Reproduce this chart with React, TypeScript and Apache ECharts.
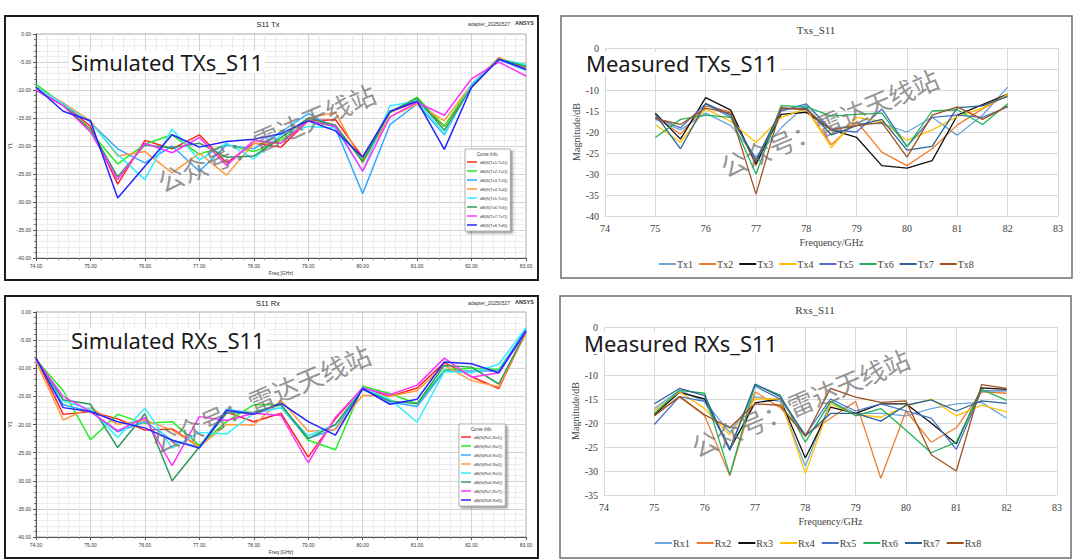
import React, { useEffect, useRef } from 'react';
import * as echarts from 'echarts';

// ---------- data ----------
const simFreq = [74, 74.5, 75, 75.5, 76, 76.5, 77, 77.5, 78, 78.5, 79, 79.5, 80, 80.5, 81, 81.5, 82, 82.5, 83];
const measFreq = [75, 75.5, 76, 76.5, 77, 77.5, 78, 78.5, 79, 79.5, 80, 80.5, 81, 81.5, 82];

const simTxNames = ['dB(S(Tx1,Tx1))', 'dB(S(Tx2,Tx2))', 'dB(S(Tx3,Tx3))', 'dB(S(Tx4,Tx4))', 'dB(S(Tx5,Tx5))', 'dB(S(Tx6,Tx6))', 'dB(S(Tx7,Tx7))', 'dB(S(Tx8,Tx8))'];
const simRxNames = ['dB(S(Rx1,Rx1))', 'dB(S(Rx2,Rx2))', 'dB(S(Rx3,Rx3))', 'dB(S(Rx4,Rx4))', 'dB(S(Rx5,Rx5))', 'dB(S(Rx6,Rx6))', 'dB(S(Rx7,Rx7))', 'dB(S(Rx8,Rx8))'];
const measTxNames = ['Tx1', 'Tx2', 'Tx3', 'Tx4', 'Tx5', 'Tx6', 'Tx7', 'Tx8'];
const measRxNames = ['Rx1', 'Rx2', 'Rx3', 'Rx4', 'Rx5', 'Rx6', 'Rx7', 'Rx8'];

const simTx1 = [-9.5, -12.5, -16.5, -26.8, -19.0, -20.5, -18.0, -23.0, -19.5, -20.2, -15.5, -15.3, -22.0, -14.0, -12.0, -16.5, -9.5, -4.5, -6.0];
const simTx2 = [-9.0, -12.5, -17.5, -23.2, -19.7, -18.0, -21.5, -19.8, -21.0, -19.0, -15.5, -16.5, -22.5, -14.0, -11.3, -16.5, -9.0, -4.5, -5.5];
const simTx3 = [-9.5, -12.5, -15.8, -20.5, -23.0, -20.0, -24.5, -19.8, -20.5, -17.5, -14.2, -16.8, -28.5, -16.2, -12.5, -18.0, -9.0, -4.5, -6.5];
const simTx4 = [-9.5, -12.3, -15.5, -21.8, -21.0, -24.8, -21.3, -25.2, -19.5, -19.5, -15.0, -14.0, -23.0, -14.8, -12.5, -15.5, -9.0, -4.2, -6.0];
const simTx5 = [-9.5, -12.5, -15.8, -21.5, -26.0, -17.0, -22.5, -19.5, -22.3, -18.0, -16.5, -16.8, -24.5, -12.8, -12.0, -17.8, -9.0, -4.5, -5.5];
const simTx6 = [-10.0, -12.8, -17.0, -25.5, -19.8, -20.3, -19.5, -22.0, -21.8, -18.5, -15.0, -16.3, -22.8, -14.0, -11.5, -17.2, -9.5, -4.5, -5.8];
const simTx7 = [-10.0, -12.8, -17.5, -26.0, -19.5, -21.2, -18.5, -23.5, -19.0, -19.5, -15.5, -16.5, -24.5, -14.8, -12.2, -14.5, -8.0, -5.0, -7.5];
const simTx8 = [-9.5, -13.8, -15.5, -29.3, -23.6, -18.0, -20.2, -19.2, -18.8, -17.8, -15.5, -17.3, -22.0, -13.8, -12.0, -20.6, -9.5, -4.5, -6.3];

const simRx1 = [-8.2, -18.2, -17.7, -19.0, -21.0, -20.8, -24.0, -17.8, -19.5, -18.0, -25.8, -19.0, -13.5, -15.0, -13.5, -9.0, -11.5, -13.6, -3.5];
const simRx2 = [-8.5, -14.0, -22.7, -18.2, -19.8, -19.5, -23.7, -19.5, -16.5, -16.5, -22.8, -24.5, -13.2, -14.5, -16.3, -10.3, -10.0, -10.2, -3.5];
const simRx3 = [-8.3, -16.5, -17.7, -21.3, -19.5, -22.8, -24.0, -17.3, -18.0, -17.0, -22.5, -20.8, -13.5, -16.0, -16.8, -10.5, -10.5, -10.5, -3.0];
const simRx4 = [-8.8, -19.2, -17.0, -20.0, -19.2, -21.0, -24.0, -20.0, -20.1, -15.7, -21.2, -20.9, -14.8, -15.0, -14.0, -9.5, -12.2, -13.3, -3.8];
const simRx5 = [-8.5, -15.8, -17.3, -22.3, -17.1, -24.2, -21.4, -21.7, -18.0, -17.0, -22.0, -20.0, -13.5, -15.5, -19.6, -10.6, -10.8, -9.3, -2.8];
const simRx6 = [-8.3, -15.6, -16.4, -24.1, -18.1, -30.0, -24.0, -18.0, -17.8, -16.5, -22.5, -20.0, -13.8, -15.8, -16.3, -9.5, -9.8, -12.8, -3.5];
const simRx7 = [-8.5, -15.0, -17.7, -21.1, -18.8, -27.3, -18.6, -19.3, -18.0, -18.4, -26.8, -18.7, -13.5, -14.7, -13.0, -8.2, -11.6, -10.8, -3.5];
const simRx8 = [-8.2, -17.0, -17.7, -19.5, -20.6, -22.8, -24.2, -17.5, -18.2, -16.2, -19.5, -21.9, -13.6, -16.4, -15.5, -8.9, -9.2, -10.8, -3.3];

const measTx1 = [-17.0, -19.5, -15.5, -18.5, -26.0, -19.0, -13.5, -19.5, -18.0, -18.0, -20.0, -16.5, -20.8, -16.0, -9.3];
const measTx2 = [-16.5, -20.5, -13.8, -15.2, -28.0, -14.5, -14.5, -23.0, -17.5, -24.8, -28.0, -24.0, -18.3, -14.5, -11.2];
const measTx3 = [-15.5, -21.7, -11.8, -14.8, -27.6, -15.8, -15.3, -19.5, -21.3, -28.0, -28.6, -26.8, -16.0, -13.5, -11.0];
const measTx4 = [-18.2, -22.5, -14.5, -17.5, -22.5, -16.5, -14.5, -23.7, -16.5, -17.5, -22.0, -19.5, -16.3, -14.3, -11.0];
const measTx5 = [-16.5, -19.0, -13.3, -16.5, -26.5, -15.0, -13.3, -19.5, -20.0, -14.5, -23.5, -16.5, -16.0, -16.5, -14.0];
const measTx6 = [-21.3, -17.0, -16.0, -16.5, -30.0, -13.7, -14.0, -16.2, -15.8, -15.5, -23.5, -15.0, -14.7, -18.2, -13.3];
const measTx7 = [-15.8, -24.0, -13.2, -16.0, -27.0, -14.5, -14.3, -20.7, -18.5, -17.0, -24.3, -23.4, -14.2, -13.8, -11.5];
const measTx8 = [-16.8, -18.2, -14.3, -15.5, -34.8, -14.2, -14.7, -19.5, -18.5, -17.7, -26.0, -16.0, -14.0, -17.0, -13.8];

const measRx1 = [-17.0, -13.2, -15.5, -22.0, -14.5, -15.5, -29.0, -15.5, -18.0, -18.0, -18.5, -17.0, -16.0, -15.7, -19.0];
const measRx2 = [-18.5, -14.5, -18.5, -31.0, -13.5, -16.8, -22.5, -19.0, -15.5, -31.5, -17.5, -24.0, -21.0, -13.5, -13.8];
const measRx3 = [-18.3, -13.6, -15.0, -25.5, -15.8, -15.0, -27.3, -16.7, -18.0, -16.0, -16.0, -20.0, -24.3, -12.7, -13.0];
const measRx4 = [-17.5, -13.5, -17.0, -22.5, -15.0, -15.0, -30.5, -16.0, -18.2, -18.8, -16.5, -15.0, -18.5, -16.3, -17.7];
const measRx5 = [-20.3, -14.5, -15.5, -25.3, -12.3, -15.0, -22.5, -15.0, -17.5, -16.0, -17.5, -19.0, -25.5, -13.3, -13.3];
const measRx6 = [-18.0, -13.2, -13.8, -30.8, -12.0, -14.2, -24.0, -15.5, -18.5, -17.0, -21.5, -26.2, -24.0, -13.0, -15.3];
const measRx7 = [-16.0, -12.8, -14.3, -25.7, -11.9, -14.5, -22.7, -18.0, -18.0, -19.6, -16.3, -15.2, -17.5, -15.4, -15.9];
const measRx8 = [-18.5, -14.5, -18.3, -21.0, -16.0, -16.3, -22.8, -12.8, -14.6, -15.7, -15.4, -26.6, -30.0, -12.0, -12.8];

const simTx = [simTx1, simTx2, simTx3, simTx4, simTx5, simTx6, simTx7, simTx8];
const simRx = [simRx1, simRx2, simRx3, simRx4, simRx5, simRx6, simRx7, simRx8];
const measTx = [measTx1, measTx2, measTx3, measTx4, measTx5, measTx6, measTx7, measTx8];
const measRx = [measRx1, measRx2, measRx3, measRx4, measRx5, measRx6, measRx7, measRx8];

const simColors = ['#ff2424', '#22ee22', '#33aaff', '#ff9a3c', '#33eeff', '#2f9a5e', '#ff33ff', '#2424ff'];
const measColors = ['#6aa6dc', '#ed7d31', '#111111', '#ffc000', '#4472c4', '#1fb35a', '#2b6297', '#a0501e'];

// ---------- styles ----------
const SANS = 'Liberation Sans, Arial, sans-serif';
const SERIF = 'Liberation Serif, Times New Roman, serif';
const BIG = 'Noto Sans, Open Sans, sans-serif';
const CJK = 'Noto Sans CJK SC, sans-serif';

function simX(gi: number) {
  return {
    type: 'value', gridIndex: gi, min: 74, max: 83, interval: 1,
    name: 'Freq [GHz]', nameLocation: 'middle', nameGap: 12,
    nameTextStyle: { fontSize: 5, fontFamily: SANS, color: '#333' },
    axisLabel: { fontSize: 5, fontFamily: SANS, color: '#333', margin: 5, formatter: (v: number) => v.toFixed(2) },
    axisLine: { show: true, onZero: false, lineStyle: { color: '#555', width: 1 } },
    axisTick: { show: true, length: 3, lineStyle: { color: '#555' } },
    minorTick: { show: true, splitNumber: 5, length: 2, lineStyle: { color: '#777' } },
    splitLine: { show: true, lineStyle: { color: '#d2d2d2', width: 1 } },
    minorSplitLine: { show: true, lineStyle: { color: '#ededed', width: 1 } },
  };
}
function simY(gi: number) {
  return {
    type: 'value', gridIndex: gi, min: -40, max: 0, interval: 5,
    name: 'Y1', nameLocation: 'middle', nameGap: 20,
    nameTextStyle: { fontSize: 5, fontFamily: SANS, color: '#333' },
    axisLabel: { fontSize: 5, fontFamily: SANS, color: '#333', margin: 5, formatter: (v: number) => v.toFixed(2) },
    axisLine: { show: true, onZero: false, lineStyle: { color: '#555', width: 1 } },
    axisTick: { show: true, length: 3, lineStyle: { color: '#555' } },
    minorTick: { show: true, splitNumber: 5, length: 2, lineStyle: { color: '#777' } },
    splitLine: { show: true, lineStyle: { color: '#d2d2d2', width: 1 } },
    minorSplitLine: { show: true, lineStyle: { color: '#ededed', width: 1 } },
  };
}
function measX(gi: number) {
  return {
    type: 'value', gridIndex: gi, min: 74, max: 83, interval: 1,
    name: 'Frequency/GHz', nameLocation: 'middle', nameGap: 21,
    nameTextStyle: { fontSize: 10, fontFamily: SERIF, color: '#404040' },
    axisLabel: { fontSize: 10, fontFamily: SERIF, color: '#404040', margin: 7 },
    axisLine: { show: false }, axisTick: { show: false },
    splitLine: { show: true, lineStyle: { color: '#d9d9d9', width: 1 } },
  };
}
function measY(gi: number, min: number) {
  return {
    type: 'value', gridIndex: gi, min, max: 0, interval: 5,
    name: 'Magnitude/dB', nameLocation: 'middle', nameGap: 24,
    nameTextStyle: { fontSize: 10, fontFamily: SERIF, color: '#404040' },
    axisLabel: { fontSize: 10, fontFamily: SERIF, color: '#404040', margin: 6 },
    axisLine: { show: false }, axisTick: { show: false },
    splitLine: { show: true, lineStyle: { color: '#d9d9d9', width: 1 } },
  };
}

function lines(names: string[], freq: number[], sets: number[][], colors: string[], gi: number, width: number) {
  return names.map((name, k) => ({
    type: 'line', name, xAxisIndex: gi, yAxisIndex: gi,
    data: freq.map((f, i) => [f, sets[k][i]]),
    showSymbol: false, symbol: 'none',
    lineStyle: { color: colors[k], width },
    itemStyle: { color: colors[k] },
    z: 3,
  }));
}

function simLegend(names: string[], left: number, top: number) {
  return {
    data: names, orient: 'vertical', left, top,
    icon: 'rect', itemWidth: 10, itemHeight: 1.5, itemGap: 3,
    padding: [10, 3, 3, 2],
    backgroundColor: '#fff', borderColor: '#999', borderWidth: 0.8,
    shadowColor: 'rgba(0,0,0,0.4)', shadowBlur: 2, shadowOffsetX: 2, shadowOffsetY: 2,
    textStyle: { fontSize: 4, fontFamily: SANS, color: '#333', lineHeight: 6, padding: [0, 0, 0, -2] },
    selectedMode: false,
  };
}
function measLegend(names: string[], left: number, top: number, gap: number) {
  return {
    data: names, orient: 'horizontal', left, top,
    icon: 'rect', itemWidth: 17, itemHeight: 2, itemGap: gap, padding: 0,
    textStyle: { fontSize: 10, fontFamily: SERIF, color: '#404040', padding: [0, 0, 0, -4] },
    selectedMode: false,
  };
}

function txt(x: number, y: number, text: string, font: string, fill: string, extra: any = {}) {
  return {
    type: 'text', x, y, z: 100,
    style: { text, font, fill, align: 'center', verticalAlign: 'middle', ...extra },
  };
}
function leftTxt(x: number, y: number, text: string, font: string, fill: string, extra: any = {}) {
  return {
    type: 'text', x, y, z: 100,
    style: { text, font, fill, align: 'left', verticalAlign: 'middle', ...extra },
  };
}
function watermark(x: number, y: number) {
  return {
    type: 'text', x, y, z: 120, rotation: (23 * Math.PI) / 180,
    style: { text: '公众号：雷达天线站', font: `26px ${CJK}`, fill: 'rgba(115,115,115,0.75)', align: 'center', verticalAlign: 'middle' },
  };
}
function frame(x: number, y: number, w: number, h: number, color: string, lw: number) {
  return { type: 'rect', z: 1, shape: { x, y, width: w, height: h }, style: { fill: 'none', stroke: color, lineWidth: lw } };
}

function buildOption() {
  const graphic: any[] = [
    frame(5, 16, 533, 264, '#1c1c1c', 2),
    frame(5, 296, 533, 262, '#1c1c1c', 2),
    frame(561, 16, 511, 262, '#6e6e6e', 1.5),
    frame(560, 296, 511, 262, '#6e6e6e', 1.5),
    // simulated headers
    txt(268, 24, 'S11 Tx', `7.5px ${SANS}`, '#222'),
    leftTxt(468, 24, 'adapter_20250527', `5px ${SANS}`, '#333'),
    leftTxt(515, 23, 'ANSYS', `bold 5.5px ${SANS}`, '#333'),
    txt(268, 303, 'S11 Rx', `7.5px ${SANS}`, '#222'),
    leftTxt(468, 303, 'adapter_20250527', `5px ${SANS}`, '#333'),
    leftTxt(515, 302, 'ANSYS', `bold 5.5px ${SANS}`, '#333'),
    // legend titles
    txt(487, 154, 'Curve Info', `4.5px ${SANS}`, '#333', {}),
    txt(481, 429, 'Curve Info', `4.5px ${SANS}`, '#333', {}),
    // measured titles
    txt(816, 30, 'Txs_S11', `11px ${SERIF}`, '#404040'),
    txt(815, 310, 'Rxs_S11', `11px ${SERIF}`, '#404040'),
    // big overlay labels
    leftTxt(69, 62, 'Simulated TXs_S11', `22px ${BIG}`, '#1a1a1a', { backgroundColor: '#fff', padding: [0, 2, 0, 2] }),
    leftTxt(69, 340, 'Simulated RXs_S11', `22px ${BIG}`, '#1a1a1a', { backgroundColor: '#fff', padding: [0, 2, 0, 2] }),
    leftTxt(585, 63, 'Measured TXs_S11', `22px ${BIG}`, '#1a1a1a', { backgroundColor: '#fff', padding: [0, 2, 0, 1] }),
    leftTxt(583, 343, 'Measured RXs_S11', `22px ${BIG}`, '#1a1a1a', { backgroundColor: '#fff', padding: [0, 2, 0, 1] }),
    // watermarks
    watermark(266, 137),
    watermark(829, 122),
    watermark(261, 398),
    watermark(800, 402),
  ];

  return {
    animation: false,
    backgroundColor: '#fff',
    grid: [
      { left: 36, top: 34, width: 490, height: 224, show: true, borderColor: '#aaa', borderWidth: 1, backgroundColor: '#fff' },
      { left: 605, top: 48, width: 453, height: 168 },
      { left: 36, top: 312, width: 490, height: 225, show: true, borderColor: '#aaa', borderWidth: 1, backgroundColor: '#fff' },
      { left: 604, top: 327, width: 453, height: 168 },
    ],
    xAxis: [simX(0), measX(1), simX(2), measX(3)],
    yAxis: [simY(0), measY(1, -40), simY(2), measY(3, -35)],
    legend: [
      simLegend(simTxNames, 465, 149),
      measLegend(measTxNames, 659, 259, 6),
      simLegend(simRxNames, 459, 424),
      measLegend(measRxNames, 655, 538, 7),
    ],
    series: [
      ...lines(simTxNames, simFreq, simTx, simColors, 0, 1.5),
      ...lines(measTxNames, measFreq, measTx, measColors, 1, 1.3),
      ...lines(simRxNames, simFreq, simRx, simColors, 2, 1.5),
      ...lines(measRxNames, measFreq, measRx, measColors, 3, 1.3),
    ],
    graphic,
  };
}

export default function App() {
  const ref = useRef<HTMLDivElement>(null);
  useEffect(() => {
    if (!ref.current) return;
    const chart = echarts.init(ref.current, null, { renderer: 'svg' });
    chart.setOption(buildOption() as any);
    return () => chart.dispose();
  }, []);
  return (
    <div
      ref={ref}
      style={{ position: 'absolute', left: 0, top: 0, width: 1080, height: 560, background: '#fff' }}
    />
  );
}
